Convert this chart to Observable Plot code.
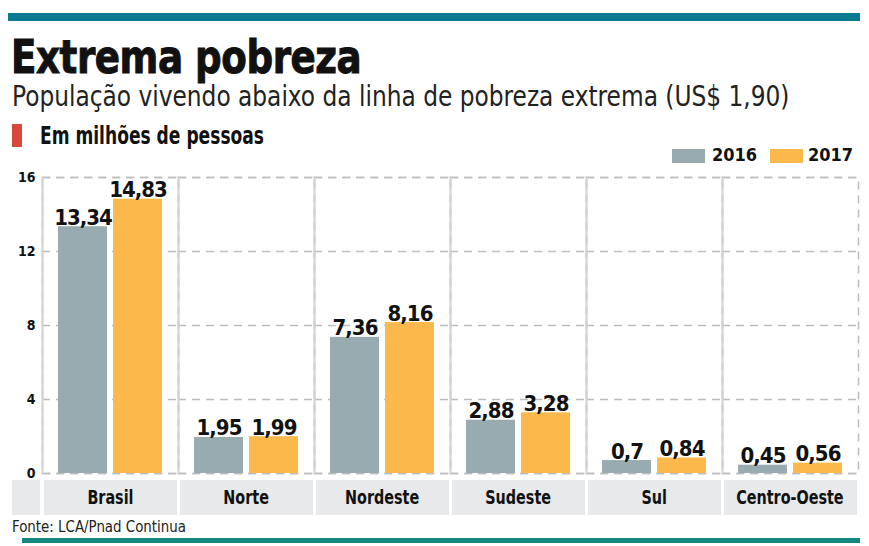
<!DOCTYPE html>
<html><head><meta charset="utf-8">
<script src="https://cdn.jsdelivr.net/npm/d3@7"></script>
<script src="https://cdn.jsdelivr.net/npm/@observablehq/plot@0.6"></script>
<style>
  body { margin:0; background:#fff; }
  #wrap { position:relative; width:869px; height:546px; overflow:hidden; font-family:"DejaVu Sans Condensed","DejaVu Sans",sans-serif; color:#111; }
  .abs { position:absolute; white-space:nowrap; transform-origin:0 0; }
  #topbar { left:8px; top:13px; width:852px; height:8px; background:#0b7b94; }
  #botbar { left:22px; top:538px; width:838px; height:5px; background:#148880; }
  #title { left:11px; top:29px; font-size:47px; font-weight:bold; letter-spacing:-0.5px; transform:scaleX(0.88); -webkit-text-stroke:1px #111; }
  #subtitle { left:12px; top:80px; font-size:28px; font-weight:normal; color:#222; transform:scaleX(0.925); }
  #redsq { left:12px; top:124px; width:10px; height:23px; background:#d9463b; }
  #unit { left:40px; top:121px; font-size:25px; font-weight:bold; transform:scaleX(0.76); }
  .sw { top:149px; height:14px; }
  .lg { top:144px; font-size:18px; font-weight:bold; }
  .band { top:480px; height:35px; background:#e7e9eb; font-weight:bold; font-size:19px; text-align:center; line-height:35px; }
  .band span { display:inline-block; transform:scaleX(0.84); transform-origin:50% 50%; }
  #fonte { left:12px; top:517px; font-size:16px; color:#222; transform:scaleX(0.93); }
  svg { position:absolute; left:0; top:165px; }
  svg g[aria-label="text"] text { letter-spacing:-1px; }
</style>
</head><body>
<div id="wrap">
  <div id="topbar" class="abs"></div>
  <div id="title" class="abs">Extrema pobreza</div>
  <div id="subtitle" class="abs">População vivendo abaixo da linha de pobreza extrema (US$ 1,90)</div>
  <div id="redsq" class="abs"></div>
  <div id="unit" class="abs">Em milhões de pessoas</div>
  <div id="fonte" class="abs">Fonte: LCA/Pnad Continua</div>
  <div id="botbar" class="abs"></div>
</div>
<script>
const regions = ["Brasil", "Norte", "Nordeste", "Sudeste", "Sul", "Centro-Oeste"];
const years = ["2016", "2017"];
const values2016 = [13.34, 1.95, 7.36, 2.88, 0.7, 0.45];
const values2017 = [14.83, 1.99, 8.16, 3.28, 0.84, 0.56];
const yTicks = [0, 4, 8, 12, 16];
const colors = ["#98abb0", "#fcb94b"];

const data = [];
regions.forEach((r, i) => {
  data.push({region: r, year: years[0], value: values2016[i]});
  data.push({region: r, year: years[1], value: values2017[i]});
});
const fmt = v => String(v).replace(".", ",");

const W = 869, mL = 42, mR = 11;
const chart = Plot.plot({
  width: W,
  height: 312,
  marginTop: 12,
  marginBottom: 4,
  marginLeft: mL,
  marginRight: mR,
  style: {fontFamily: '"DejaVu Sans Condensed","DejaVu Sans",sans-serif', fontSize: "14px", fontWeight: "bold", color: "#111", background: "transparent", overflow: "visible"},
  fx: {domain: regions, padding: 0, axis: null, label: null},
  x: {domain: years, paddingInner: 0.11, paddingOuter: 0.29, axis: null},
  y: {domain: [0, 16], ticks: yTicks, tickSize: 0, tickPadding: 7, label: null, tickFormat: d => d},
  color: {domain: years, range: colors},
  marks: [
    Plot.ruleY(yTicks, {stroke: "#bdbdbd", strokeWidth: 1.5, strokeDasharray: "8,6"}),
    Plot.frame({stroke: "#bdbdbd", strokeWidth: 1.5, strokeDasharray: "8,6"}),
    Plot.frame({anchor: "left", stroke: "#d2d2d2", strokeWidth: 2}),
    Plot.barY(data, {fx: "region", x: "year", y: "value", fill: "year"}),
    Plot.text(data, {fx: "region", x: "year", y: "value", text: d => fmt(d.value), lineAnchor: "bottom", dy: -2, fontSize: 22, fontWeight: "bold", fill: "#111"})
  ]
});
const wrap = document.getElementById("wrap");
wrap.appendChild(chart);

// legend
const legendPos = [{sw: 672, tx: 712}, {sw: 770, tx: 808}];
years.forEach((y, i) => {
  const s = document.createElement("div");
  s.className = "abs sw"; s.style.left = legendPos[i].sw + "px"; s.style.width = "33px"; s.style.background = colors[i];
  wrap.appendChild(s);
  const t = document.createElement("div");
  t.className = "abs lg"; t.style.left = legendPos[i].tx + "px"; t.textContent = y;
  wrap.appendChild(t);
});

// category band
const step = (W - mL - mR) / regions.length;
const lb = document.createElement("div");
lb.className = "abs band"; lb.style.left = "12px"; lb.style.width = (mL - 14) + "px";
wrap.appendChild(lb);
regions.forEach((r, i) => {
  const b = document.createElement("div");
  b.className = "abs band";
  b.style.left = (mL + i * step + 1.5) + "px";
  b.style.width = (step - 3) + "px";
  const sp = document.createElement("span");
  sp.textContent = r;
  b.appendChild(sp);
  wrap.appendChild(b);
});
</script>
</body></html>
